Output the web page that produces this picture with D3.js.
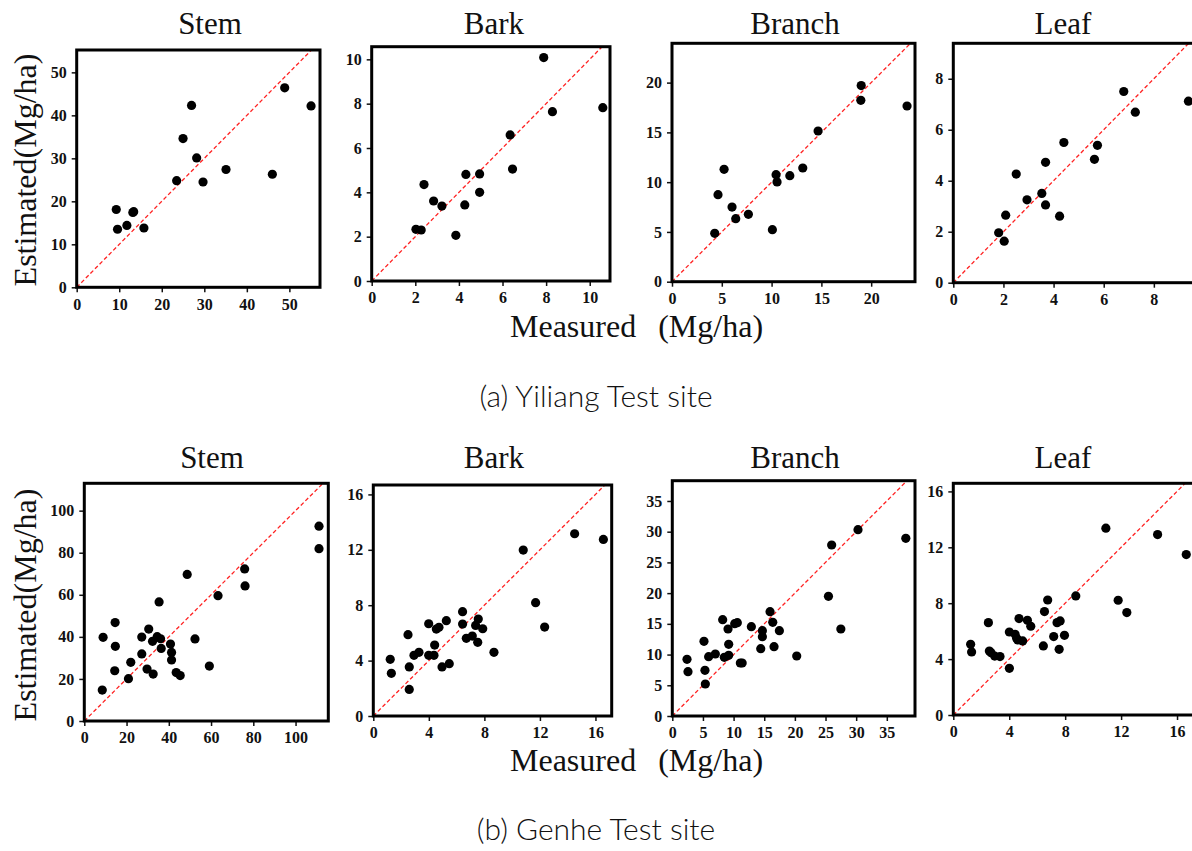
<!DOCTYPE html>
<html>
<head>
<meta charset="utf-8">
<script src="https://cdn.jsdelivr.net/npm/d3@7"></script>
<style>
  html, body { margin: 0; padding: 0; background: #fff; }
  svg { display: block; }
  .tick line { stroke: #111; stroke-width: 1.5; }
</style>
</head>
<body>
<svg id="chart" width="1192" height="851"></svg>
<script>
// ── Data ──────────────────────────────────────────────────────────────────────
const PART_NAMES = ['Stem', 'Bark', 'Branch', 'Leaf'];
const SITE_CAPTIONS = ['(a) Yiliang Test site', '(b) Genhe Test site'];

// Yiliang
const yiliangStemMeasured  = [9.3, 9.6, 11.8, 13.2, 13.4, 15.8, 23.5, 25.0, 27.0, 28.2, 29.7, 35.1, 46.0, 48.9, 55.1];
const yiliangStemEstimated = [18.1, 13.5, 14.4, 17.4, 17.6, 13.8, 24.8, 34.6, 42.3, 30.1, 24.5, 27.4, 26.3, 46.4, 42.2];
const yiliangBarkMeasured  = [2.03, 2.27, 2.40, 2.84, 3.22, 3.86, 4.27, 4.32, 4.95, 4.95, 6.35, 6.46, 7.89, 8.29, 10.6];
const yiliangBarkEstimated = [2.33, 2.30, 4.35, 3.61, 3.38, 2.06, 3.43, 4.81, 4.83, 4.00, 6.59, 5.05, 10.08, 7.64, 7.82];
const yiliangBranchMeasured  = [4.29, 4.62, 5.23, 6.03, 6.40, 7.67, 10.08, 10.45, 10.55, 11.83, 13.13, 14.67, 19.0, 18.96, 23.6];
const yiliangBranchEstimated = [4.86, 8.74, 11.29, 7.50, 6.33, 6.77, 5.23, 10.75, 10.02, 10.65, 11.42, 15.14, 19.7, 18.22, 17.65];
const yiliangLeafMeasured  = [1.81, 2.03, 2.09, 2.51, 2.94, 3.53, 3.68, 3.68, 4.24, 4.41, 5.63, 5.75, 6.80, 7.26, 9.38];
const yiliangLeafEstimated = [1.96, 1.63, 2.65, 4.26, 3.25, 3.50, 3.05, 4.72, 2.61, 5.50, 4.84, 5.39, 7.50, 6.69, 7.12];

// Genhe
const genheStemMeasured  = [8.5, 8.9, 14.4, 14.6, 14.7, 20.9, 22.0, 27.2, 27.2, 29.7, 30.5, 32.3, 32.6, 34.5, 35.4,
                            36.1, 36.4, 40.8, 41.3, 41.3, 43.5, 45.4, 48.7, 52.4, 59.2, 63.3, 75.9, 76.1, 111.1, 111.1];
const genheStemEstimated = [14.7, 39.8, 23.9, 46.8, 35.5, 20.1, 27.9, 31.9, 39.9, 24.7, 43.7, 37.9, 22.3, 40.1, 56.6,
                            39.1, 34.5, 36.6, 32.6, 29.0, 23.0, 21.6, 69.7, 39.0, 26.1, 59.6, 72.3, 64.2, 92.6, 81.9];
const genheBarkMeasured  = [1.22, 1.30, 2.50, 2.59, 2.59, 2.93, 3.29, 3.99, 3.99, 4.37, 4.42, 4.54, 4.73, 4.95, 5.26,
                            5.47, 6.43, 6.43, 6.70, 7.13, 7.37, 7.52, 7.56, 7.88, 8.69, 10.8, 11.69, 12.34, 14.5, 16.57];
const genheBarkEstimated = [4.09, 3.08, 5.87, 3.54, 1.92, 4.38, 4.60, 6.66, 4.38, 4.38, 5.12, 6.28, 6.40, 3.54, 6.88,
                            3.78, 7.53, 6.64, 5.61, 5.77, 6.54, 5.32, 7.00, 6.30, 4.60, 11.98, 8.18, 6.42, 13.16, 12.75];
const genheBranchMeasured  = [2.40, 2.56, 5.17, 5.33, 5.39, 5.93, 7.02, 8.22, 8.49, 9.09, 9.20, 9.20, 10.18, 10.61, 11.1,
                              11.4, 12.9, 14.43, 14.7, 14.7, 15.95, 16.39, 16.6, 17.47, 20.3, 25.48, 26.0, 27.5, 30.3, 38.1];
const genheBranchEstimated = [9.22, 7.22, 12.15, 7.43, 5.21, 9.66, 10.09, 15.68, 9.55, 14.16, 11.67, 9.88, 15.03, 15.19, 8.63,
                              8.63, 14.54, 10.96, 13.89, 12.91, 16.98, 15.25, 11.29, 13.89, 9.77, 19.48, 27.83, 14.16, 30.33, 28.92];
const genheLeafMeasured  = [1.24, 1.31, 2.51, 2.58, 2.70, 2.96, 3.34, 4.01, 4.01, 4.42, 4.53, 4.70, 4.61, 4.96, 5.30,
                            5.54, 6.44, 6.52, 6.75, 7.18, 7.42, 7.64, 7.57, 7.95, 8.76, 10.91, 11.79, 12.41, 14.61, 16.66];
const genheLeafEstimated = [5.06, 4.51, 6.61, 4.58, 4.46, 4.22, 4.18, 5.94, 3.34, 5.78, 5.49, 6.90, 5.37, 5.30, 6.78,
                            6.35, 4.94, 7.40, 8.23, 5.61, 6.61, 6.73, 4.70, 5.70, 8.52, 13.37, 8.21, 7.33, 12.91, 11.48];

// Tick values
const yiliangStemTicks   = [0, 10, 20, 30, 40, 50];
const yiliangBarkTicks   = [0, 2, 4, 6, 8, 10];
const yiliangBranchTicks = [0, 5, 10, 15, 20];
const yiliangLeafTicks   = [0, 2, 4, 6, 8];
const genheStemTicks     = [0, 20, 40, 60, 80, 100];
const genheBarkTicks     = [0, 4, 8, 12, 16];
const genheBranchTicks   = [0, 5, 10, 15, 20, 25, 30, 35];
const genheLeafTicks     = [0, 4, 8, 12, 16];

// Axis extents (the frame edges)
const yiliangXMax = [57.2, 10.93, 24.4, 10.04];
const yiliangYMax = [55.2, 10.57, 23.95, 9.39];
const genheXMax   = [115.5, 17.17, 39.6, 18.0];
const genheYMax   = [113, 16.68, 38.3, 16.58];


// ── Layout ────────────────────────────────────────────────────────────────────
// frame boxes [left, top, right, bottom] and title centre x per panel
const ROWS = [
    {
        frames: [[76.7, 50, 320, 287.3], [371.7, 46.7, 610, 281], [672, 43.3, 915, 281.7], [953.3, 43.3, 1205, 282.7]],
        titleX: [210, 494, 795, 1063], titleY: 34,
        measured:  [yiliangStemMeasured, yiliangBarkMeasured, yiliangBranchMeasured, yiliangLeafMeasured],
        estimated: [yiliangStemEstimated, yiliangBarkEstimated, yiliangBranchEstimated, yiliangLeafEstimated],
        ticks: [yiliangStemTicks, yiliangBarkTicks, yiliangBranchTicks, yiliangLeafTicks],
        xMax: yiliangXMax, yMax: yiliangYMax,
        yLabelCy: 170, xLabelY: 337, captionY: 407,
    },
    {
        frames: [[84.3, 483.3, 328.3, 721], [373.3, 485, 611.7, 716], [672.3, 480.7, 915, 716], [953.3, 483.3, 1205, 715]],
        titleX: [212, 494, 795, 1063], titleY: 468,
        measured:  [genheStemMeasured, genheBarkMeasured, genheBranchMeasured, genheLeafMeasured],
        estimated: [genheStemEstimated, genheBarkEstimated, genheBranchEstimated, genheLeafEstimated],
        ticks: [genheStemTicks, genheBarkTicks, genheBranchTicks, genheLeafTicks],
        xMax: genheXMax, yMax: genheYMax,
        yLabelCy: 605, xLabelY: 771, captionY: 840,
    },
];

const SERIF = '"Liberation Serif", "Times New Roman", serif';
const svg = d3.select('#chart');
svg.append('rect').attr('width', 1192).attr('height', 851).attr('fill', '#fff');

function styleTicks(axisG) {
    axisG.attr('font-family', SERIF).attr('font-size', 16).attr('font-weight', 'bold');
    axisG.select('.domain').remove();
    axisG.selectAll('text').attr('fill', '#111');
}


// ── Panels ────────────────────────────────────────────────────────────────────
ROWS.forEach((row, ri) => {
    PART_NAMES.forEach((name, pi) => {
        const [L, T, R, B] = row.frames[pi];
        const x = d3.scaleLinear().domain([0, row.xMax[pi]]).range([L, R]);
        const y = d3.scaleLinear().domain([0, row.yMax[pi]]).range([B, T]);
        const g = svg.append('g');
        const pts = row.measured[pi].map((m, i) => ({ m, e: row.estimated[pi][i] }));

        // 1:1 line up to the top of the frame
        const d1 = Math.min(row.xMax[pi], row.yMax[pi]);
        g.append('line')
            .attr('x1', x(0)).attr('y1', y(0))
            .attr('x2', x(d1)).attr('y2', y(d1))
            .attr('stroke', '#f22').attr('stroke-width', 1.3)
            .attr('stroke-dasharray', '4,2.5');

        g.selectAll('circle')
            .data(pts)
            .join('circle')
            .attr('cx', d => x(d.m))
            .attr('cy', d => y(d.e))
            .attr('r', 4.6)
            .attr('fill', '#000');

        // Axes
        const ax = g.append('g')
            .attr('transform', `translate(0,${B})`)
            .call(d3.axisBottom(x).tickValues(row.ticks[pi]).tickSize(5).tickPadding(6));
        const ay = g.append('g')
            .attr('transform', `translate(${L},0)`)
            .call(d3.axisLeft(y).tickValues(row.ticks[pi]).tickSize(5).tickPadding(5));
        styleTicks(ax);
        styleTicks(ay);

        // Frame
        g.append('rect')
            .attr('x', L).attr('y', T)
            .attr('width', R - L).attr('height', B - T)
            .attr('fill', 'none')
            .attr('stroke', '#000')
            .attr('stroke-width', 3);

        // Title
        svg.append('text')
            .attr('x', row.titleX[pi]).attr('y', row.titleY)
            .attr('text-anchor', 'middle')
            .attr('font-family', SERIF)
            .attr('font-size', 31)
            .attr('fill', '#111')
            .text(name);
    });

    // Y label
    svg.append('text')
        .attr('transform', `translate(36,${row.yLabelCy}) rotate(-90)`)
        .attr('text-anchor', 'middle')
        .attr('font-family', SERIF)
        .attr('font-size', 32)
        .attr('fill', '#111')
        .text('Estimated(Mg/ha)');

    // X label (full-width brackets imitated with spacing)
    const xl = svg.append('text')
        .attr('x', 510).attr('y', row.xLabelY)
        .attr('font-family', SERIF)
        .attr('font-size', 32)
        .attr('fill', '#111');
    xl.append('tspan').text('Measured');
    xl.append('tspan').attr('dx', 22).text('(Mg/ha)');

    // Caption
    svg.append('text')
        .attr('x', 596).attr('y', row.captionY)
        .attr('text-anchor', 'middle')
        .attr('font-family', 'Lato, "Open Sans", sans-serif')
        .attr('font-weight', 300)
        .attr('font-size', 30)
        .attr('fill', '#111')
        .text(SITE_CAPTIONS[ri]);
});
</script>
</body>
</html>
